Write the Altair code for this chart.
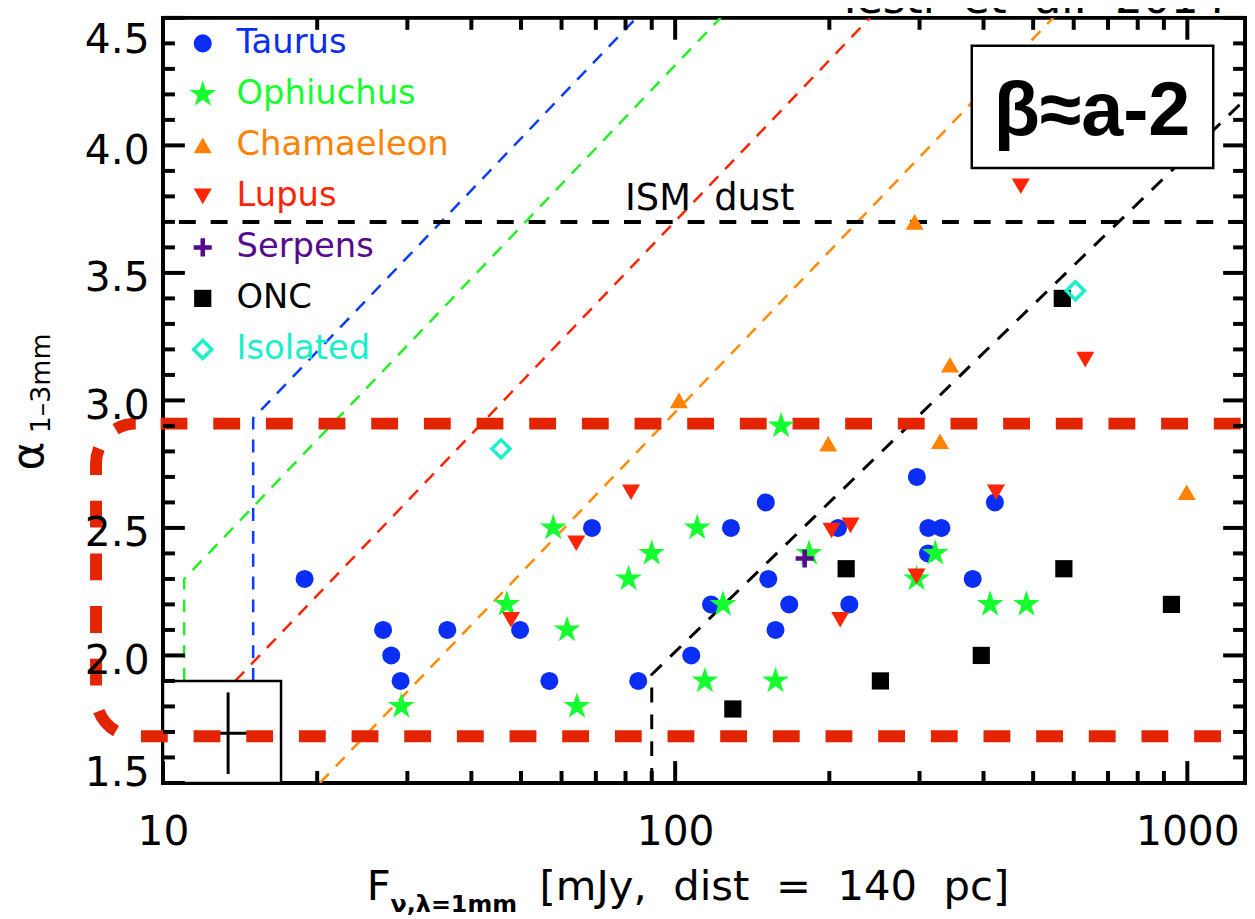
import altair as alt
import pandas as pd

# ---------------- data ----------------
taurus_x = [18.9, 26.9, 27.9, 29.1, 35.9, 49.8, 56.8, 68.8, 84.7, 107.5, 117.5, 128.5,
            150.3, 152, 157, 167, 208, 218.8, 296.4, 312, 331, 311.6, 381, 421]
taurus_y = [2.3, 2.1, 2.0, 1.9, 2.1, 2.1, 1.9, 2.5, 1.9, 2.0, 2.2, 2.5,
            2.6, 2.3, 2.1, 2.2, 2.5, 2.2, 2.7, 2.5, 2.5, 2.4, 2.3, 2.6]
oph_x = [29.2, 57.8, 46.9, 61.5, 64.3, 81.1, 90, 110.4, 124, 114.3, 157, 161, 182.6, 322, 296, 412, 485]
oph_y = [1.8, 2.5, 2.2, 2.1, 1.8, 2.3, 2.4, 2.5, 2.2, 1.9, 1.9, 2.9, 2.4, 2.4, 2.3, 2.2, 2.2]
cha_x = [101.7, 199, 329, 997, 293.5, 344]
cha_y = [3.0, 2.83, 2.84, 2.64, 3.70, 3.14]
lup_x = [82, 64.1, 47.8, 202, 220, 210, 296, 423, 473, 632]
lup_y = [2.64, 2.44, 2.14, 2.49, 2.51, 2.14, 2.31, 2.64, 3.84, 3.16]
ser_x = [179]
ser_y = [2.38]
onc_x = [129.6, 215.7, 251.6, 396, 574, 931, 570]
onc_y = [1.79, 2.34, 1.9, 2.0, 2.34, 2.2, 3.40]
iso_x = [45.7, 604.5]
iso_y = [2.81, 3.43]

legend_names = ["Taurus", "Ophiuchus", "Chamaeleon", "Lupus", "Serpens", "ONC", "Isolated"]

# dashed sensitivity lines (vertices)
blue_lx, blue_ly = [15, 15, 84], [1.9, 2.93, 4.5]
green_lx, green_ly = [11, 11, 122.6], [1.9, 2.3, 4.5]
red_lx, red_ly = [13.84, 240], [1.9, 4.5]
orange_lx, orange_ly = [20.25, 547], [1.5, 4.5]
black_lx, black_ly = [90, 90, 1296], [1.5, 1.925, 4.18]
ism_level = [3.7]

# highlighted alpha range (rounded dashed frame)
range_x = [7.4, 2000]
range_y = [1.683, 2.909]

# typical error box
box_x = [10, 17]
box_y = [1.5, 1.9]
err_x, err_xlo, err_xhi = [13.4], [12.1], [15.4]
err_y, err_ylo, err_yhi = [1.695], [1.535], [1.855]

# axes ticks
y_major = [1.5, 2.0, 2.5, 3.0, 3.5, 4.0, 4.5]
y_minor = [1.6, 1.7, 1.8, 1.9, 2.1, 2.2, 2.3, 2.4, 2.6, 2.7, 2.8, 2.9, 3.1, 3.2, 3.3, 3.4,
           3.6, 3.7, 3.8, 3.9, 4.1, 4.2, 4.3, 4.4]
x_major = [10, 100, 1000]
x_minor = [20, 30, 40, 50, 60, 70, 80, 90, 200, 300, 400, 500, 600, 700, 800, 900]

# ---------------- styling ----------------
FONT = "DejaVu Sans"
BLUE = "#0A2EF5"
GREEN = "#15FF30"
ORANGE = "#FF8205"
RED = "#FF2405"
PURPLE = "#560A8E"
CYAN = "#17F0C9"
THICKRED = "#E32400"

STAR = ("M0,-1L0.2245,-0.309L0.951,-0.309L0.3633,0.118L0.5878,0.809L0,0.382"
        "L-0.5878,0.809L-0.3633,0.118L-0.951,-0.309L-0.2245,-0.309Z")
PLUS = "M-1,-0.25H1V0.25H-1ZM-0.25,-1H0.25V1H-0.25Z"

W, H = 1089, 770
MAJ, MIN, TW = 22, 12, 4
XS = alt.Scale(type="log", domain=[10, 1296], nice=False)
YS = alt.Scale(domain=[1.5, 4.5], nice=False, zero=False)


def X(field="x", axis=None):
    return alt.X(f"{field}:Q", scale=XS, axis=axis)


def Y(field="y", axis=None):
    return alt.Y(f"{field}:Q", scale=YS, axis=axis)


anchor = pd.DataFrame({"x": [100], "y": [3.0]})
common_ax = dict(domain=False, grid=False, tickOpacity=0, title=None, zindex=1,
                 labelFont=FONT, labelFontSize=41, labelColor="black",
                 labelOverlap=False, labelFlush=False, labelBound=False)

# label-only axes (ticks are drawn as rules below)
axes = [
    alt.Chart(anchor).mark_point(opacity=0).encode(
        x=X("x"),
        y=Y("y", alt.Axis(orient="left", values=y_major, tickSize=MAJ, offset=-MAJ, format=".1f",
                          labelPadding=14,
                          labelOffset={"expr": "datum.value > 4.4 ? 23 : (datum.value < 1.6 ? -9 : 6)"},
                          **common_ax))),
    alt.Chart(anchor).mark_point(opacity=0).encode(
        y=Y("y"),
        x=X("x", alt.Axis(orient="bottom", values=x_major, tickSize=MAJ, offset=-MAJ, format="d",
                          labelPadding=30, **common_ax))),
]


# inward tick marks on all four sides
def yticks(vals, x0, x1):
    return alt.Chart(pd.DataFrame({"v": vals})).mark_rule(color="black", strokeWidth=TW).encode(
        y=Y("v"), x=alt.value(x0), x2=alt.value(x1))


def xticks(vals, y0, y1):
    return alt.Chart(pd.DataFrame({"v": vals})).mark_rule(color="black", strokeWidth=TW).encode(
        x=X("v"), y=alt.value(y0), y2=alt.value(y1))


ticks = [
    yticks(y_major, 0, MAJ), yticks(y_minor, 0, MIN),
    yticks(y_major, W - MAJ, W), yticks(y_minor, W - MIN, W),
    xticks(x_major, H - MAJ, H), xticks(x_minor, H - MIN, H),
    xticks(x_major, 0, MAJ), xticks(x_minor, 0, MIN),
]


def dline(xs, ys, color, dash, width=2.5):
    df = pd.DataFrame({"x": xs, "y": ys, "i": list(range(len(xs)))})
    return alt.Chart(df).mark_line(color=color, strokeDash=dash, strokeWidth=width, clip=True).encode(
        x=X(), y=Y(), order="i:Q")


lines = [
    dline(blue_lx, blue_ly, "#0A3CFF", [13, 10]),
    dline(green_lx, green_ly, "#22F022", [13, 10]),
    dline(red_lx, red_ly, "#FF2200", [13, 10]),
    dline(orange_lx, orange_ly, "#FF8A00", [13, 10]),
    dline(black_lx, black_ly, "black", [15, 12], 3),
]

ism = alt.Chart(pd.DataFrame({"y": ism_level})).mark_rule(
    color="black", strokeWidth=4, strokeDash=[17, 15]).encode(y=Y())

ebox = alt.Chart(pd.DataFrame({"x": [box_x[0]], "x2": [box_x[1]], "y": [box_y[0]], "y2": [box_y[1]]})).mark_rect(
    fill="white", stroke="black", strokeWidth=2.5).encode(x=X("x"), x2="x2:Q", y=Y("y"), y2="y2:Q")

edf = pd.DataFrame({"x": err_x, "xlo": err_xlo, "xhi": err_xhi, "y": err_y, "ylo": err_ylo, "yhi": err_yhi})
err_h = alt.Chart(edf).mark_rule(color="black", strokeWidth=3).encode(x=X("xlo"), x2="xhi:Q", y=Y("y"))
err_v = alt.Chart(edf).mark_rule(color="black", strokeWidth=3).encode(x=X("x"), y=Y("ylo"), y2="yhi:Q")

rng = alt.Chart(pd.DataFrame({"x": [range_x[0]], "x2": [range_x[1]], "y": [range_y[0]], "y2": [range_y[1]]})).mark_rect(
    fillOpacity=0, stroke=THICKRED, strokeWidth=12, strokeDash=[27, 26], strokeDashOffset=28,
    cornerRadius=40, clip=False).encode(x=X("x"), x2="x2:Q", y=Y("y"), y2="y2:Q")

one = pd.DataFrame({"t": [""]})
beta_box = alt.Chart(one).mark_rect(fill="white", stroke="black", strokeWidth=2.5).encode(
    x=alt.value(814), x2=alt.value(1057), y=alt.value(28), y2=alt.value(151))


def label(text, x, y, size, align="left", baseline="alphabetic", angle=0, weight="normal",
          font=FONT, color="black"):
    kw = dict(align=align, baseline=baseline, fontSize=size, font=font, color=color,
              fontWeight=weight, clip=False)
    if angle:
        kw["angle"] = angle
    return alt.Chart(pd.DataFrame({"t": [text]})).mark_text(**kw).encode(
        x=alt.value(x), y=alt.value(y), text="t:N")


texts = [
    label("\u03b2\u2248a-2", 935, 118, 76, align="center", weight="bold", font="Liberation Sans"),
    label("ISM\u00a0 dust", 465, 193, 37),
    label("Testi\u00a0 et\u00a0 al.\u00a0 2014", 678, -5, 44),
    label("\u03b1", -121, 441, 44, align="center", angle=270),
    label("1\u20133mm", -114, 418, 27, angle=270),
    label("F", 205, 888, 42),
    label("\u03bd,\u03bb=1mm", 229, 900, 24, weight="bold"),
    label("[mJy,\u00a0 dist\u00a0 =\u00a0 140\u00a0 pc]", 379, 888, 42),
]

groups = [
    (taurus_x, taurus_y, "circle", BLUE, 330, True),
    (oph_x, oph_y, STAR, GREEN, 800, True),
    (cha_x, cha_y, "triangle-up", ORANGE, 330, True),
    (lup_x, lup_y, "triangle-down", RED, 330, True),
    (ser_x, ser_y, PLUS, PURPLE, 330, True),
    (onc_x, onc_y, "square", "black", 300, True),
    (iso_x, iso_y, "diamond", CYAN, 330, False),
]

points = []
legend = []
for i, (xs, ys, shape, color, size, filled) in enumerate(groups):
    mk = dict(shape=shape, size=size, filled=filled, color=color, opacity=1)
    if not filled:
        mk["strokeWidth"] = 3.5
    points.append(alt.Chart(pd.DataFrame({"x": xs, "y": ys})).mark_point(**mk).encode(x=X(), y=Y()))
    legend.append(
        alt.Chart(pd.DataFrame({"row": [i]})).transform_calculate(ly="4.4 - 0.2 * datum.row")
        .mark_point(**mk).encode(x=alt.value(40), y=Y("ly")))
    legend.append(
        alt.Chart(pd.DataFrame({"row": [i], "name": [legend_names[i]]}))
        .transform_calculate(ly="4.4 - 0.2 * datum.row")
        .mark_text(align="left", baseline="middle", fontSize=34, font=FONT, color=color)
        .encode(x=alt.value(74), y=Y("ly"), text="name:N"))

chart = alt.layer(
    *axes, *lines, ism, ebox, err_h, err_v, rng, beta_box, *texts, *legend, *points, *ticks
).resolve_axis(x="independent", y="independent").properties(
    width=W, height=H,
    padding={"left": 156, "top": 7, "right": 2, "bottom": 134},
    autosize=alt.AutoSizeParams(type="none"),
    background="white",
).configure_view(stroke="black", strokeWidth=4)

chart.save("out.html", embed_options={"renderer": "svg", "actions": False})
